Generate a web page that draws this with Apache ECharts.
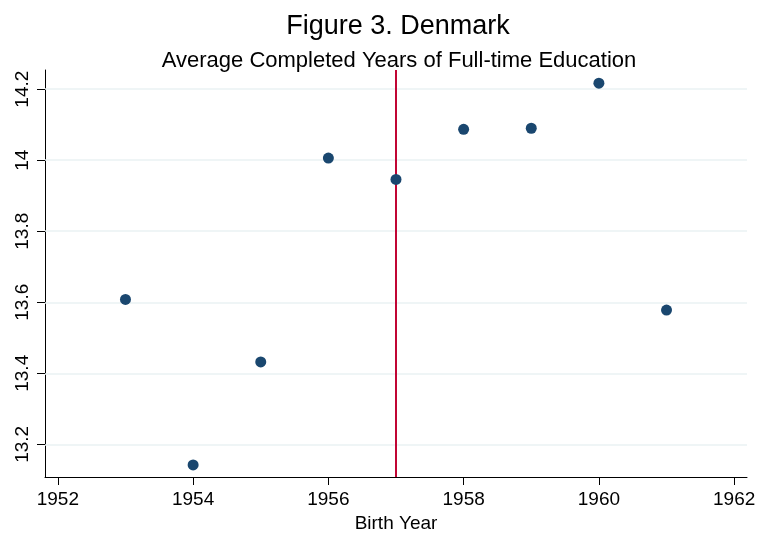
<!DOCTYPE html>
<html>
<head>
<meta charset="utf-8">
<script src="https://cdn.jsdelivr.net/npm/echarts@6/dist/echarts.min.js"></script>
<style>
  html, body { margin: 0; padding: 0; background: #fff; }
  #main { width: 760px; height: 533px; }
</style>
</head>
<body>
<div id="main"></div>
<script>
// birth cohorts and average completed years of full-time education
var years = [1953, 1954, 1955, 1956, 1957, 1958, 1959, 1960, 1961];
var eduYears = [13.608, 13.142, 13.432, 14.006, 13.946, 14.087, 14.09, 14.217, 13.578];

var xTicks = [1952, 1954, 1956, 1958, 1960, 1962];
var yTicks = [13.2, 13.4, 13.6, 13.8, 14, 14.2];
var cutoffYear = 1957;

var fontName = 'Liberation Sans, Arial, Helvetica, sans-serif';

var points = [];
for (var i = 0; i < years.length; i++) {
  points.push([years[i], eduYears[i]]);
}

var gridLines = [];
for (var j = 0; j < yTicks.length; j++) {
  gridLines.push({ yAxis: yTicks[j] });
}

var myChart = echarts.init(document.getElementById('main'), null, { renderer: 'canvas' });

var option = {
  animation: false,
  backgroundColor: '#fff',
  title: [{
    text: 'Figure 3. Denmark',
    left: 393,
    textAlign: 'center',
    top: 8,
    textStyle: { fontFamily: fontName, fontSize: 27, fontWeight: 'normal', color: '#000' }
  }, {
    text: 'Average Completed Years of Full-time Education',
    left: 394,
    textAlign: 'center',
    top: 45,
    textStyle: { fontFamily: fontName, fontSize: 22, fontWeight: 'normal', color: '#000' }
  }],
  grid: { left: 45, right: 13, top: 70, bottom: 56, containLabel: false, outerBoundsMode: 'none' },
  xAxis: {
    type: 'value',
    min: 1951.81,
    max: 1962.19,
    name: 'Birth Year',
    nameLocation: 'middle',
    nameGap: 32,
    nameTextStyle: { fontFamily: fontName, fontSize: 19, color: '#000' },
    axisLine: { show: true, onZero: false, lineStyle: { color: '#000', width: 1 } },
    axisTick: { show: true, length: 8, customValues: xTicks, lineStyle: { color: '#000' } },
    axisLabel: { customValues: xTicks, margin: 13, fontFamily: fontName, fontSize: 19, color: '#000',
      formatter: function (v) { return String(v); } },
    splitLine: { show: false }
  },
  yAxis: {
    type: 'value',
    min: 13.108,
    max: 14.254,
    axisLine: { show: true, onZero: false, lineStyle: { color: '#000', width: 1 } },
    axisTick: { show: true, length: 8, customValues: yTicks, lineStyle: { color: '#000' } },
    axisLabel: { customValues: yTicks, rotate: 90, margin: 13, fontFamily: fontName, fontSize: 19, color: '#000',
      formatter: function (v) { return String(Math.round(v * 10) / 10); } },
    splitLine: { show: false }
  },
  series: [{
    // horizontal grid lines
    type: 'line',
    data: [],
    z: 1,
    silent: true,
    markLine: {
      silent: true,
      symbol: 'none',
      label: { show: false },
      lineStyle: { color: '#eaf2f3', width: 1.5, type: 'solid' },
      data: gridLines
    }
  }, {
    // cutoff year
    type: 'line',
    data: [],
    z: 2,
    silent: true,
    markLine: {
      silent: true,
      symbol: 'none',
      label: { show: false },
      lineStyle: { color: '#c10534', width: 2, type: 'solid' },
      data: [{ xAxis: cutoffYear }]
    }
  }, {
    type: 'scatter',
    data: points,
    z: 5,
    symbol: 'circle',
    symbolSize: 11,
    itemStyle: { color: '#1a476f', opacity: 1 }
  }]
};

myChart.setOption(option);
</script>
</body>
</html>
